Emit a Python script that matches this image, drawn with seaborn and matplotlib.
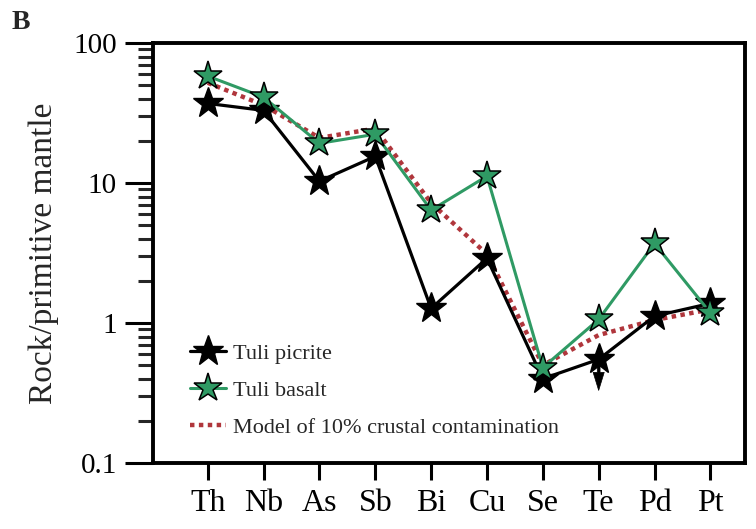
import matplotlib
matplotlib.use("Agg")
import matplotlib.pyplot as plt
import seaborn as sns
import pandas as pd
import numpy as np

elements = ["Th", "Nb", "As", "Sb", "Bi", "Cu", "Se", "Te", "Pd", "Pt"]
picrite = [37, 33, 10.3, 15.5, 1.27, 2.9, 0.40, 0.55, 1.12, 1.38]
basalt = [58, 41, 19.2, 22.3, 6.4, 11.2, 0.48, 1.06, 3.7, 1.18]
model = [52, 36, 21, 24.5, 7.2, 3.1, 0.50, 0.82, 1.05, 1.25]
te_arrow_tip = 0.33

sns.set_style("ticks")
plt.rcParams["font.family"] = ["Liberation Serif", "DejaVu Serif"]
plt.rcParams["mathtext.fontset"] = "stix"

fig = plt.figure(figsize=(7.56, 5.29), dpi=100)
ax = fig.add_axes([153/756, 1-463/529, (745-153)/756, (463-43)/529])

x = np.arange(len(elements))
df = pd.DataFrame({"x": np.concatenate([x, x, x]),
                   "value": picrite + basalt + model,
                   "series": ["Tuli picrite"]*10 + ["Tuli basalt"]*10 +
                             ["Model of 10% crustal contamination"]*10})

green = "#2f9a64"
red = "#b0363c"

sns.lineplot(data=df[df.series == "Tuli picrite"], x="x", y="value", ax=ax,
             color="black", lw=2.3, marker="*", markersize=23,
             markerfacecolor="black", markeredgecolor="black", markeredgewidth=1.0,
             sort=False, label="Tuli picrite", zorder=3)
sns.lineplot(data=df[df.series == "Tuli basalt"], x="x", y="value", ax=ax,
             color=green, lw=2.2, marker="*", markersize=21,
             markerfacecolor=green, markeredgecolor="black", markeredgewidth=1.1,
             sort=False, label="Tuli basalt", zorder=4)
sns.lineplot(data=df[df.series.str.startswith("Model")], x="x", y="value", ax=ax,
             color=red, lw=3.2, linestyle=(0, (1, 1)),
             sort=False, label="Model of 10% crustal contamination", zorder=2)

ax.annotate("", xy=(7, te_arrow_tip), xytext=(7, picrite[7]),
            arrowprops=dict(facecolor="black", edgecolor="black", width=2.0,
                            headwidth=8, headlength=13, shrink=0, lw=0.5), zorder=3)

ax.set_yscale("log")
ax.set_ylim(0.1, 100)
ax.set_xlim(-0.98, 9.62)
ax.set_xticks(x)
ax.set_xticklabels(elements)
ax.set_yticks([0.1, 1, 10, 100])
ax.set_yticklabels(["0.1", "1", "10", "100"])
ax.yaxis.set_minor_locator(matplotlib.ticker.LogLocator(base=10, subs=np.arange(2, 10)))
ax.yaxis.set_minor_formatter(matplotlib.ticker.NullFormatter())
ax.tick_params(axis="both", which="major", labelsize=21, width=2.2, length=10, direction="out", colors="black")
ax.tick_params(axis="y", which="major", length=20, pad=6)
ax.tick_params(axis="y", which="minor", length=11, width=2.2, direction="out")
ax.tick_params(axis="x", which="major", length=12, pad=7, labelsize=23)
ax.set_xlabel("")
ax.set_ylabel("Rock/primitive mantle", fontsize=24, labelpad=10)
for s in ax.spines.values():
    s.set_linewidth(2.8)
    s.set_color("black")

leg = ax.legend(loc="upper left", bbox_to_anchor=((190-153)/592, (463-343)/420),
                frameon=False, fontsize=16, handlelength=1.6, handletextpad=0.35,
                labelspacing=0.75, borderpad=0, borderaxespad=0)

fig.text(12/756, 1-10/529, "B", fontsize=20, fontweight="bold", va="top", ha="left")

fig.savefig("out.png", dpi=100)
